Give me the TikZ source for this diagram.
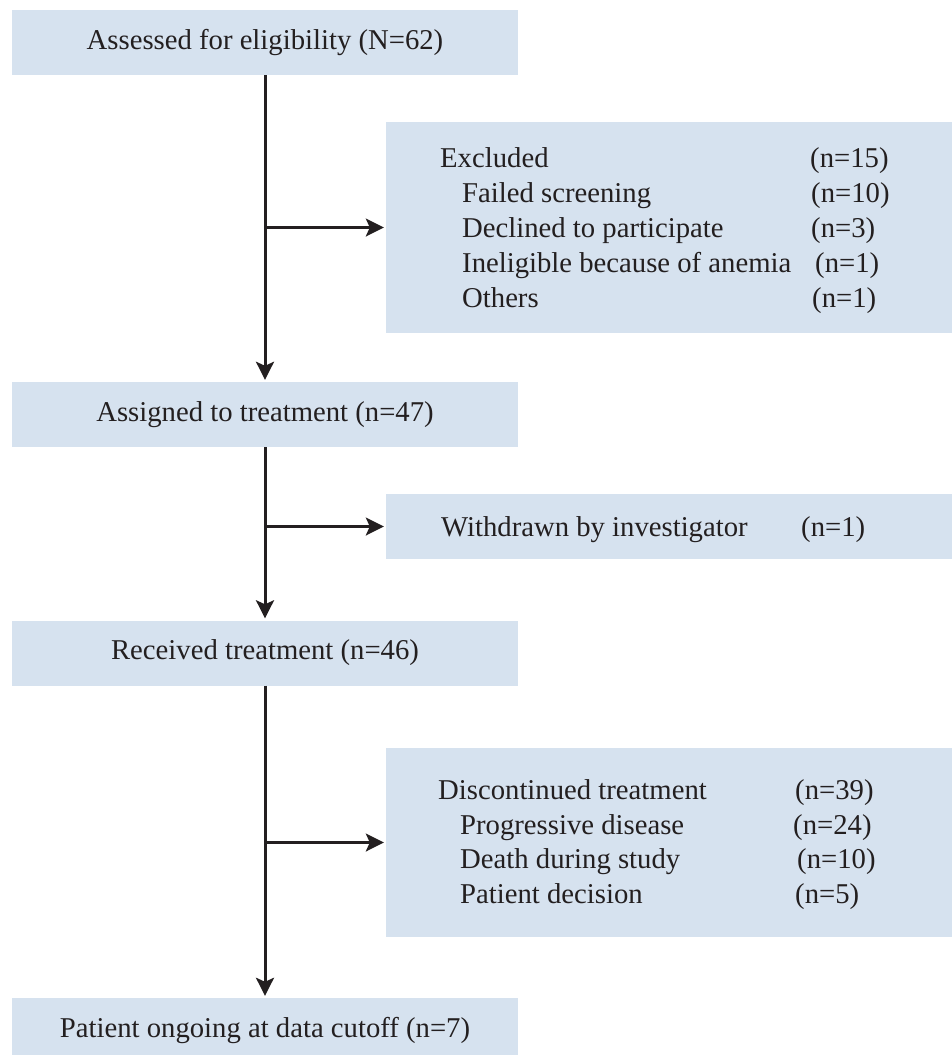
\documentclass[tikz,border=0pt]{standalone}
\usepackage{fontspec}
\setmainfont{Liberation Serif}
\usetikzlibrary{arrows.meta}
\definecolor{boxblue}{RGB}{214,226,239}
\definecolor{ink}{RGB}{35,31,32}

\begin{document}
\begin{tikzpicture}[x=1pt, y=-1pt, >={Stealth[length=18pt, width=18pt, inset=4pt]},
	box/.style={fill=boxblue, inner sep=0pt, text=ink, font=\fontsize{28.7}{35}\selectfont},
	mainbox/.style={box, minimum width=506pt, minimum height=65pt},
	sidebox/.style={box, minimum width=566pt},
	item/.style={anchor=base west, inner sep=0pt, text=ink, font=\fontsize{28.7}{35}\selectfont},
	flow/.style={draw=ink, line width=3pt, ->, shorten >=2pt},
	branch/.style={flow, line width=2.5pt}]
		\useasboundingbox (0,0) rectangle (952,1055);
		%main column
			\node [mainbox] (elig) at (265,42.5) {Assessed for eligibility (N=62)};
			\node [mainbox] (assign) at (265,414.5) {Assigned to treatment (n=47)};
			\node [mainbox] (recv) at (265,653) {Received treatment (n=46)};
			\node [mainbox] (ongo) at (265,1030.5) {Patient ongoing at data cutoff (n=7)};
		%side boxes
			\node [sidebox, minimum height=211pt] (excl) at (669,227.5) {};
			\node [sidebox, minimum height=65pt] (withd) at (669,526.5) {};
			\node [sidebox, minimum height=189pt] (disc) at (669,842.5) {};
		%excluded
			\node [item] (exA) at (440,167) {Excluded};
			\node [item] (exAn) at (810,167) {(n=15)};
			\node [item] (exB) at (462,202) {Failed screening};
			\node [item] (exBn) at (811,202) {(n=10)};
			\node [item] (exC) at (462,237) {Declined to participate};
			\node [item] (exCn) at (811,237) {(n=3)};
			\node [item] (exD) at (462,272) {Ineligible because of anemia};
			\node [item] (exDn) at (815,272) {(n=1)};
			\node [item] (exE) at (462,307) {Others};
			\node [item] (exEn) at (812,307) {(n=1)};
		%withdrawn
			\node [item] (wdA) at (441,536) {Withdrawn by investigator};
			\node [item] (wdAn) at (801,536) {(n=1)};
		%discontinued
			\node [item] (dcA) at (438,799) {Discontinued treatment};
			\node [item] (dcAn) at (795,799) {(n=39)};
			\node [item] (dcB) at (460,834) {Progressive disease};
			\node [item] (dcBn) at (793,834) {(n=24)};
			\node [item] (dcC) at (460,868) {Death during study};
			\node [item] (dcCn) at (797,868) {(n=10)};
			\node [item] (dcD) at (460,903) {Patient decision};
			\node [item] (dcDn) at (795,903) {(n=5)};
		%arrows
			\draw [flow] (elig.south) to (assign.north);
			\draw [branch] (elig.south |- excl.west) to (excl.west);
			\draw [flow] (assign.south) to (recv.north);
			\draw [branch] (assign.south |- withd.west) to (withd.west);
			\draw [flow] (recv.south) to (ongo.north);
			\draw [branch] (recv.south |- disc.west) to (disc.west);
\end{tikzpicture}
\end{document}
